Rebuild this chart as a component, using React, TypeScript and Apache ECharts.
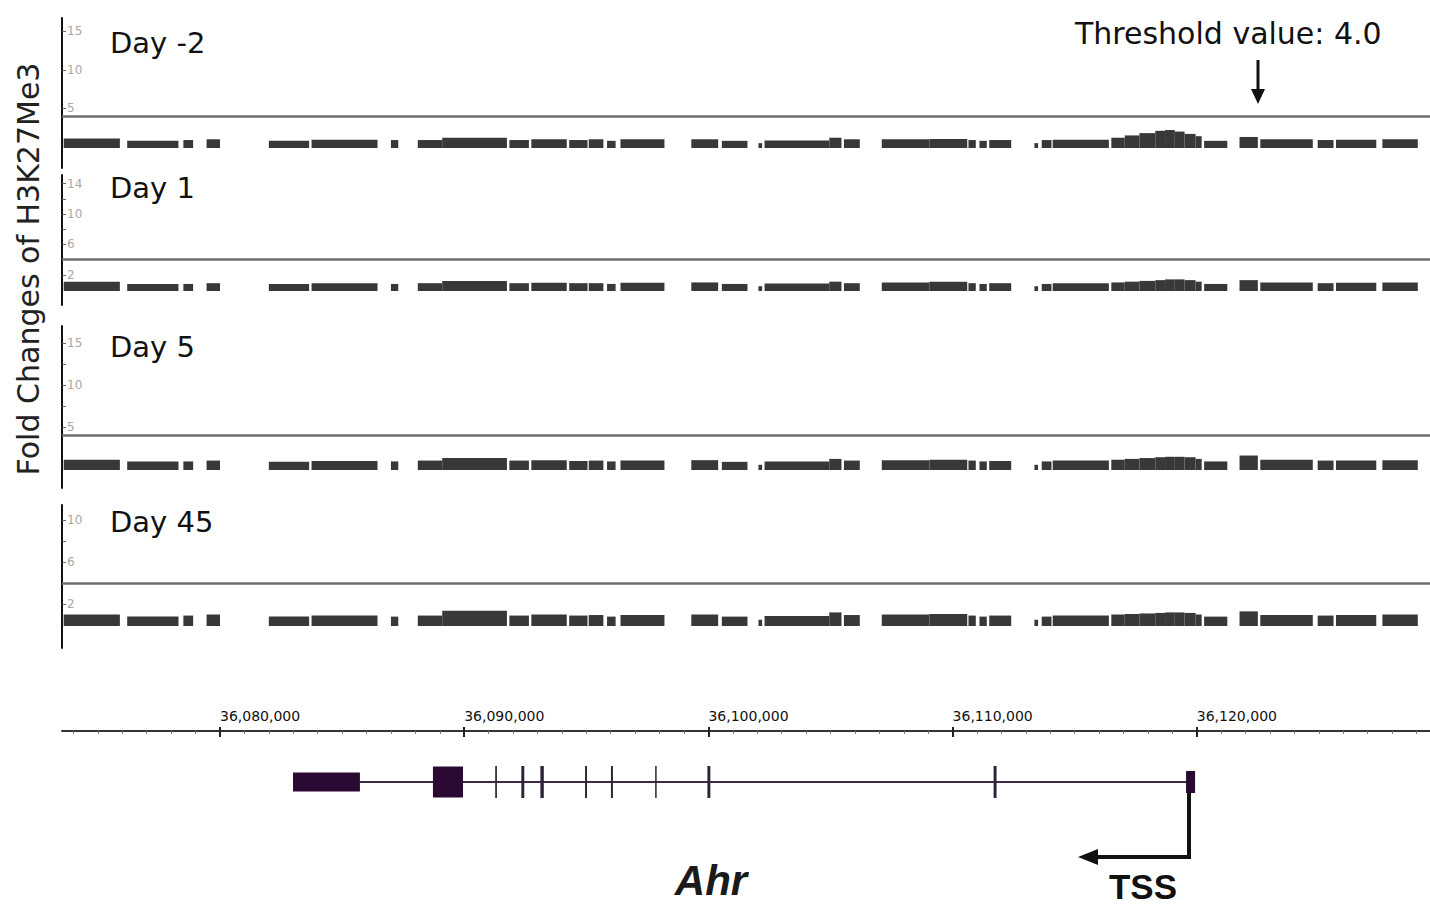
import React, { useEffect, useRef } from "react";
import * as echarts from "echarts";

// ---------- DATA ----------
const regionStart = 36073530;
const regionEnd = 36129550;
const rulerTicks = [36080000, 36090000, 36100000, 36110000, 36120000];

const trackNames = ["Day -2", "Day 1", "Day 5", "Day 45"];
const thresholdValue = 4.0;

// signal segments (genomic bp), shared mappable regions
const segmentStarts = [36073600, 36076200, 36078500, 36079450, 36082000, 36083750, 36087000, 36088100, 36089100, 36091850, 36092750, 36094300, 36095100, 36095850, 36096400, 36099300, 36100550, 36102050, 36102300, 36104950, 36105550, 36107100, 36109050, 36110650, 36111100, 36111500, 36113350, 36113650, 36114100, 36116500, 36117050, 36117650, 36118300, 36118700, 36119100, 36119500, 36119950, 36120300, 36121750, 36122600, 36124950, 36125700, 36127600];
const segmentEnds = [36075900, 36078300, 36078900, 36080000, 36083650, 36086450, 36087300, 36089100, 36091750, 36092650, 36094200, 36095050, 36095700, 36096200, 36098200, 36100400, 36101600, 36102200, 36104950, 36105450, 36106200, 36109050, 36110600, 36110950, 36111400, 36112400, 36113500, 36114050, 36116400, 36117050, 36117650, 36118300, 36118700, 36119100, 36119500, 36119950, 36120200, 36121250, 36122500, 36124750, 36125600, 36127350, 36129050];

const dayMinus2Values = [1.1, 0.8, 0.9, 1.0, 0.8, 0.95, 0.9, 0.9, 1.2, 0.9, 1.0, 0.9, 1.0, 0.8, 1.0, 1.0, 0.8, 0.5, 0.85, 1.2, 1.0, 1.0, 1.05, 0.9, 0.8, 0.9, 0.5, 0.9, 0.95, 1.2, 1.5, 1.8, 2.1, 2.2, 2.0, 1.7, 1.4, 0.8, 1.3, 1.0, 0.9, 0.95, 1.0];
const day1Values = [1.1, 0.8, 0.8, 0.9, 0.8, 0.9, 0.8, 0.9, 1.2, 0.9, 0.95, 0.9, 0.9, 0.8, 0.95, 1.0, 0.8, 0.5, 0.85, 1.1, 0.9, 1.0, 1.1, 0.9, 0.8, 0.9, 0.5, 0.8, 0.9, 1.0, 1.1, 1.2, 1.3, 1.4, 1.4, 1.3, 1.1, 0.8, 1.3, 1.0, 0.9, 0.95, 1.0];
const day5Values = [1.1, 0.9, 0.9, 1.0, 0.85, 0.95, 0.9, 1.0, 1.3, 1.0, 1.05, 0.95, 1.0, 0.9, 1.0, 1.05, 0.85, 0.5, 0.9, 1.2, 1.0, 1.05, 1.1, 1.0, 0.9, 0.95, 0.5, 0.9, 1.0, 1.1, 1.2, 1.3, 1.4, 1.45, 1.45, 1.4, 1.2, 0.9, 1.6, 1.1, 1.0, 1.0, 1.05];
const day45Values = [1.0, 0.8, 0.9, 1.0, 0.8, 0.9, 0.8, 0.9, 1.35, 0.9, 1.0, 0.9, 0.95, 0.8, 0.95, 1.0, 0.8, 0.5, 0.85, 1.2, 0.95, 1.0, 1.05, 0.9, 0.8, 0.9, 0.5, 0.8, 0.9, 1.0, 1.05, 1.1, 1.15, 1.2, 1.2, 1.15, 1.0, 0.8, 1.3, 0.95, 0.9, 0.95, 1.0];

// y-axis ticks / labels per track
const dayMinus2Ticks = [5, 10, 15];
const dayMinus2Labels = [5, 10, 15];
const day1Ticks = [2, 4, 6, 8, 10, 12, 14];
const day1Labels = [2, 6, 10, 14];
const day5Ticks = [5, 7.5, 10, 12.5, 15];
const day5Labels = [5, 10, 15];
const day45Ticks = [2, 4, 6, 8, 10];
const day45Labels = [2, 6, 10];

// gene model (Ahr)
const geneName = "Ahr";
const intronStart = 36085730;
const intronEnd = 36119745;
const exonStarts = [36082990, 36088720, 36091270, 36092340, 36093120, 36094950, 36096010, 36097820, 36099960, 36111680, 36119560];
const exonEnds = [36085730, 36089950, 36091340, 36092460, 36093260, 36095030, 36096090, 36097880, 36100080, 36111800, 36119930];
const exonKinds = ["utr", "big", "thin", "thin", "thin", "thin", "thin", "thin", "thin", "thin", "tss"];

// ---------- LAYOUT (styles) ----------
const FONT = "DejaVu Sans";
const trackLayouts = [
  { top: 18, height: 150, min: -2.73, max: 16.75 },
  { top: 175, height: 130, min: -1.97, max: 15.13 },
  { top: 326, height: 162, min: -2.26, max: 17.0 },
  { top: 505, height: 143, min: -2.19, max: 11.43 },
];
const trackValues = [dayMinus2Values, day1Values, day5Values, day45Values];
const trackTicks = [dayMinus2Ticks, day1Ticks, day5Ticks, day45Ticks];
const trackLabels = [dayMinus2Labels, day1Labels, day5Labels, day45Labels];
const nameY = [43, 188, 347, 522];

function buildOption() {
  const grids: any[] = [];
  const xAxes: any[] = [];
  const yAxes: any[] = [];
  const series: any[] = [];

  trackLayouts.forEach((t, i) => {
    grids.push({ left: 62, right: 0, top: t.top, height: t.height, containLabel: false });
    xAxes.push({ gridIndex: i, type: "value", min: regionStart, max: regionEnd, show: false });
    yAxes.push({
      gridIndex: i,
      type: "value",
      min: t.min,
      max: t.max,
      position: "left",
      axisLine: { show: true, onZero: false, lineStyle: { color: "#111", width: 2 } },
      axisTick: { show: true, inside: true, length: 4, customValues: trackTicks[i], lineStyle: { color: "#666", width: 1 } },
      axisLabel: { show: true, inside: true, customValues: trackLabels[i], color: "#a8a8a8", fontSize: 12, margin: 5, fontFamily: FONT },
      splitLine: { show: false },
    });
    const data = segmentStarts.map((s, k) => [s, segmentEnds[k], trackValues[i][k]]);
    series.push({
      type: "custom",
      name: trackNames[i],
      xAxisIndex: i,
      yAxisIndex: i,
      data,
      encode: { x: [0, 1], y: 2 },
      renderItem: (params: any, api: any) => {
        const p0 = api.coord([api.value(0), api.value(2)]);
        const p1 = api.coord([api.value(1), 0]);
        return {
          type: "rect",
          shape: { x: p0[0], y: p0[1], width: Math.max(p1[0] - p0[0], 1), height: p1[1] - p0[1] + 1 },
          style: { fill: "#383838" },
        };
      },
      markLine: {
        silent: true,
        symbol: ["none", "none"],
        label: { show: false },
        lineStyle: { color: "#6e6e6e", width: 2.5, type: "solid" },
        data: [{ yAxis: thresholdValue }],
      },
    });
  });

  // ruler grid (index 4): xAxis 4,5,6
  grids.push({ left: 62, right: 0, top: 731, height: 20 });
  const minorTicks: number[] = [];
  for (let g = 36074000; g <= 36129000; g += 1000) if (g % 10000 !== 0) minorTicks.push(g);
  xAxes.push({
    gridIndex: 4, type: "value", min: regionStart, max: regionEnd, position: "top",
    axisLine: { show: true, onZero: false, lineStyle: { color: "#333", width: 2 } },
    axisTick: { show: true, length: 4, customValues: rulerTicks, lineStyle: { color: "#222", width: 2 } },
    axisLabel: {
      show: true, customValues: rulerTicks, align: "left", margin: 8, fontSize: 14, color: "#111", fontFamily: FONT,
      formatter: (v: number) => v.toLocaleString("en-US"),
    },
    splitLine: { show: false },
  });
  xAxes.push({
    gridIndex: 4, type: "value", min: regionStart, max: regionEnd, position: "top",
    axisLine: { show: false, onZero: false },
    axisTick: { show: true, inside: true, length: 6, customValues: rulerTicks, lineStyle: { color: "#222", width: 2 } },
    axisLabel: { show: false },
    splitLine: { show: false },
  });
  xAxes.push({
    gridIndex: 4, type: "value", min: regionStart, max: regionEnd, position: "top",
    axisLine: { show: false, onZero: false },
    axisTick: { show: true, inside: true, length: 3, customValues: minorTicks, lineStyle: { color: "#777", width: 1 } },
    axisLabel: { show: false },
    splitLine: { show: false },
  });
  yAxes.push({ gridIndex: 4, type: "value", min: 0, max: 1, show: false });

  // gene grid (index 5): xAxis 7, yAxis 5
  grids.push({ left: 62, right: 0, top: 762, height: 40 });
  xAxes.push({ gridIndex: 5, type: "value", min: regionStart, max: regionEnd, show: false });
  yAxes.push({ gridIndex: 5, type: "value", min: -1, max: 1, show: false });

  const kindHeight: Record<string, number> = { utr: 19, big: 31, thin: 32, tss: 22 };
  const geneData: any[] = [[intronStart, intronEnd, "intron"]];
  exonStarts.forEach((s, k) => geneData.push([s, exonEnds[k], exonKinds[k]]));
  series.push({
    type: "custom",
    name: geneName,
    xAxisIndex: 7,
    yAxisIndex: 5,
    data: geneData.map((r) => [r[0], r[1]]),
    encode: { x: [0, 1] },
    renderItem: (params: any, api: any) => {
      const row = geneData[params.dataIndex];
      const p0 = api.coord([row[0], 0]);
      const p1 = api.coord([row[1], 0]);
      const kind = row[2];
      if (kind === "intron") {
        return { type: "line", shape: { x1: p0[0], y1: p0[1], x2: p1[0], y2: p1[1] }, style: { stroke: "#3a2a44", lineWidth: 2 } };
      }
      const h = kindHeight[kind];
      return {
        type: "rect",
        shape: { x: p0[0], y: p0[1] - h / 2, width: Math.max(p1[0] - p0[0], 1.5), height: h },
        style: { fill: kind === "thin" ? "#2e2236" : "#2a0a33" },
      };
    },
  });

  const textStyle = (text: string, size: number, extra: any = {}) => ({
    text, fill: "#111", font: `${extra.style || "normal"} ${extra.weight || "normal"} ${size}px "${extra.family || FONT}"`,
    align: extra.align || "left", textAlign: extra.align || "left",
    verticalAlign: "middle", textVerticalAlign: "middle",
  });

  const graphic: any[] = [];
  trackNames.forEach((n, i) => {
    graphic.push({ type: "text", x: 110, y: nameY[i], style: textStyle(n, 29) });
  });
  graphic.push({ type: "text", x: 1075, y: 33, style: textStyle(`Threshold value: ${thresholdValue.toFixed(1)}`, 30) });
  graphic.push({ type: "line", shape: { x1: 1258, y1: 60, x2: 1258, y2: 92 }, style: { stroke: "#111", lineWidth: 3 } });
  graphic.push({ type: "polygon", shape: { points: [[1251, 89], [1265, 89], [1258, 104]] }, style: { fill: "#111" } });
  graphic.push({
    type: "text", x: 28, y: 269, rotation: Math.PI / 2,
    style: { ...textStyle("Fold Changes of H3K27Me3", 30, { align: "center" }), fill: "#222" },
  });
  // TSS arrow
  graphic.push({ type: "polyline", shape: { points: [[1189, 793], [1189, 857], [1095, 857]] }, style: { stroke: "#111", lineWidth: 4, fill: null } });
  graphic.push({ type: "polygon", shape: { points: [[1078, 857], [1098, 849], [1098, 865]] }, style: { fill: "#111" } });
  graphic.push({
    type: "text", x: 1143, y: 886,
    style: textStyle("TSS", 35, { align: "center", weight: "bold", family: "Liberation Sans" }),
  });
  graphic.push({
    type: "text", x: 711, y: 880,
    style: { ...textStyle(geneName, 42, { align: "center", weight: "bold", family: "Liberation Sans", style: "italic" }), fill: "#1a1a1a" },
  });

  return {
    animation: false,
    backgroundColor: "#ffffff",
    textStyle: { fontFamily: FONT },
    grid: grids,
    xAxis: xAxes,
    yAxis: yAxes,
    series,
    graphic,
  };
}

export default function App() {
  const ref = useRef<HTMLDivElement>(null);
  useEffect(() => {
    if (!ref.current) return;
    const chart = echarts.init(ref.current, null, { renderer: "svg" });
    chart.setOption(buildOption());
    return () => chart.dispose();
  }, []);
  return <div ref={ref} style={{ position: "absolute", left: 0, top: 0, width: 1430, height: 907, background: "#fff" }} />;
}
